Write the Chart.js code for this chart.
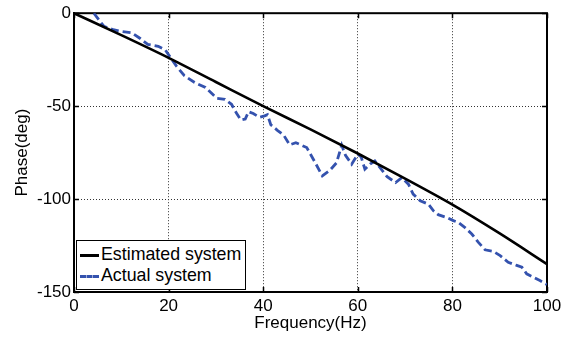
<!DOCTYPE html>
<html>
<head>
<meta charset="utf-8">
<script src="https://cdn.jsdelivr.net/npm/chart.js@4/dist/chart.umd.min.js"></script>
<style>
  html, body { margin: 0; padding: 0; background: #fff; }
  #wrap { position: relative; width: 574px; height: 339px; }
  #legend {
    position: absolute; left: 76px; top: 240px; width: 168px; height: 48px;
    border: 1.5px solid #000; background: #fff;
    font-family: "Liberation Sans", Arial, sans-serif; font-size: 17.8px; color: #000;
  }
  .row { position: absolute; left: 0; height: 20px; line-height: 20px; white-space: nowrap; }
  .sw { position: absolute; left: 3px; width: 19px; top: 10px; height: 0; }
  .lbl { position: absolute; left: 24px; top: 0; }
</style>
</head>
<body>
<div id="wrap">
  <canvas id="c" width="574" height="339"></canvas>
  <div id="legend">
    <div class="row" style="top:3px"><span class="sw" style="border-top:3px solid #000"></span><span class="lbl">Estimated system</span></div>
    <div class="row" style="top:24px"><span class="sw" style="border-top:3px dashed #3452AE"></span><span class="lbl">Actual system</span></div>
  </div>
</div>
<script>
// ---- data ----
const estFreq  = [0, 10, 20, 30, 40, 50, 60, 70, 80, 90, 100];
const estPhase = [0, -11.8, -24, -37, -50, -62.5, -75.5, -89, -103, -118.5, -135];

const actFreq  = [4.2, 6.3, 8.3, 10.1, 12.2, 14.0, 15.6, 17.8, 19.3, 20.3, 21.7, 23.3, 25.5, 27.8, 30.2, 31.9, 33.3, 34.4, 35.3, 36.2, 36.9, 37.9, 39.2, 40.3, 40.9, 41.6, 43.0, 44.3, 45.6, 46.9, 49.2, 50.8, 52.5, 54.1, 55.5, 56.6, 57.4, 58.7, 60.0, 60.7, 61.5, 62.6, 63.6, 64.7, 66.2, 68.0, 69.3, 70.7, 71.7, 73.2, 74.9, 76.0, 77.0, 78.8, 80.2, 81.2, 82.6, 84.1, 85.5, 86.9, 88.6, 90.1, 91.8, 93.6, 94.7, 95.7, 97.1, 98.5, 100];
const actPhase = [0, -7, -8.9, -9.8, -10.5, -13.6, -16.8, -17.8, -19.8, -23.5, -28.6, -33.5, -37.3, -40, -45.8, -46.3, -49, -54, -57.5, -57, -53, -54, -56, -55.2, -54.6, -60, -63, -65.5, -70.8, -69.7, -72.3, -79.5, -87.5, -84.5, -80.5, -71, -76.5, -81.2, -75.9, -77.3, -83.9, -81.2, -79.5, -83.1, -88, -91.1, -88.5, -92, -97.3, -100.9, -102.7, -106.3, -108.4, -109.9, -111.6, -112.5, -115.2, -118.8, -123.3, -127.3, -128.1, -130.4, -134, -135.7, -136.7, -140.2, -142, -143.8, -146];

const xTicks = [0, 20, 40, 60, 80, 100];
const yTicks = [-150, -100, -50, 0];

const seriesNames = ["Estimated system", "Actual system"];

const FONT = "'Liberation Sans', Arial, sans-serif";

const framePlugin = {
  id: 'frame',
  beforeDatasetsDraw(chart) {
    const {ctx, chartArea: a, scales} = chart;
    ctx.save();
    ctx.strokeStyle = '#000';
    ctx.lineWidth = 1.5;
    const tl = 5;
    ctx.beginPath();
    xTicks.forEach(v => {
      const x = Math.round(scales.x.getPixelForValue(v)) + 0.5;
      ctx.moveTo(x, a.bottom); ctx.lineTo(x, a.bottom - tl);
      ctx.moveTo(x, a.top); ctx.lineTo(x, a.top + tl);
    });
    yTicks.forEach(v => {
      const y = Math.round(scales.y.getPixelForValue(v)) + 0.5;
      ctx.moveTo(a.left, y); ctx.lineTo(a.left + tl, y);
      ctx.moveTo(a.right, y); ctx.lineTo(a.right - tl, y);
    });
    ctx.stroke();
    ctx.lineWidth = 2;
    ctx.strokeRect(a.left, a.top, a.right - a.left, a.bottom - a.top);
    ctx.restore();
  }
};

new Chart(document.getElementById('c'), {
  type: 'line',
  data: {
    datasets: [
      {
        label: seriesNames[0],
        data: estFreq.map((f, i) => ({x: f, y: estPhase[i]})),
        borderColor: '#000', borderWidth: 2.6, pointRadius: 0,
        cubicInterpolationMode: 'monotone', fill: false
      },
      {
        label: seriesNames[1],
        data: actFreq.map((f, i) => ({x: f, y: actPhase[i]})),
        borderColor: '#3452AE', borderWidth: 2.8, borderDash: [8, 4], pointRadius: 0,
        tension: 0, fill: false
      }
    ]
  },
  options: {
    responsive: false, animation: false,
    layout: { padding: { left: 0, top: 12, right: 27, bottom: 0 } },
    plugins: { legend: { display: false }, tooltip: { enabled: false } },
    scales: {
      x: {
        type: 'linear', min: 0, max: 100,
        afterFit(s) { s.height = 47; },
        afterBuildTicks(s) { s.ticks = xTicks.map(v => ({value: v})); },
        grid: { color: '#333', lineWidth: 1, drawTicks: false },
        border: { display: true, color: '#000', width: 2, dash: [1, 2] },
        ticks: { color: '#000', font: { family: FONT, size: 17 }, padding: 4, maxRotation: 0 },
        title: { display: true, text: 'Frequency(Hz)', color: '#000', font: { family: FONT, size: 17 }, padding: { top: 0, bottom: 5 } }
      },
      y: {
        type: 'linear', min: -150, max: 0,
        afterFit(s) { s.width = 74; },
        afterBuildTicks(s) { s.ticks = yTicks.map(v => ({value: v})); },
        grid: { color: '#333', lineWidth: 1, drawTicks: false },
        border: { display: true, color: '#000', width: 2, dash: [1, 2] },
        ticks: { color: '#000', font: { family: FONT, size: 17 }, padding: 3 },
        title: { display: true, text: 'Phase(deg)', color: '#000', font: { family: FONT, size: 17 }, padding: { top: 12, bottom: 0 } }
      }
    }
  },
  plugins: [framePlugin]
});
</script>
</body>
</html>
